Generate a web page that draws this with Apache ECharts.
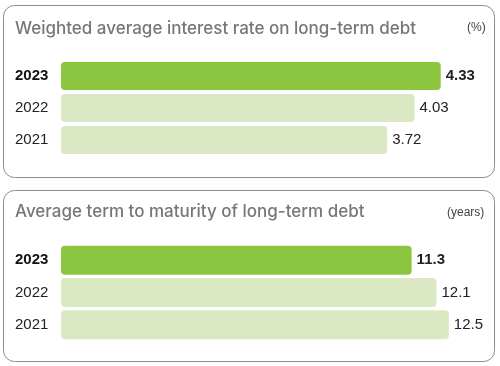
<!DOCTYPE html>
<html><head><meta charset="utf-8">
<script src="https://cdn.jsdelivr.net/npm/echarts@6/dist/echarts.min.js"></script>
<style>html,body{margin:0;padding:0;background:#fff}#c{width:500px;height:366px}</style>
</head><body><div id="c"></div>
<script>
const categories = ['2021', '2022', '2023'];
const rateValues = [3.72, 4.03, 4.33];
const termValues = [12.5, 12.1, 11.3];
const title1 = 'Weighted average interest rate on long-term debt';
const unit1 = '(%)';
const title2 = 'Average term to maturity of long-term debt';
const unit2 = '(years)';

const DARK = '#8cc540', LIGHT = '#dbe8c4';
const FONT = 'Liberation Sans, Arial, sans-serif';
const TFONT = 'Inter, Liberation Sans, sans-serif';

function barData(vals) {
  return vals.map((v, i) => {
    const hl = categories[i] === '2023';
    return {
      value: v,
      itemStyle: { color: hl ? DARK : LIGHT },
      label: { fontWeight: hl ? 'bold' : 'normal' }
    };
  });
}
const catAxis = (gi) => ({
  type: 'category', gridIndex: gi, data: categories,
  axisLine: { show: false }, axisTick: { show: false },
  axisLabel: {
    margin: 46, fontFamily: FONT, fontSize: 15, color: '#222', align: 'left',
    formatter: v => v === '2023' ? '{b|' + v + '}' : v,
    rich: { b: { fontWeight: 'bold', fontSize: 15, fontFamily: FONT, color: '#111' } }
  }
});
const labelCfg = {
  show: true, position: 'right', distance: 5, fontFamily: FONT, fontSize: 15, color: '#222'
};

const chart = echarts.init(document.getElementById('c'), null, { renderer: 'canvas' });
chart.setOption({
  animation: false,
  grid: [
    { left: 61, top: 60, width: 438.5, height: 96 },
    { left: 61, top: 244, width: 434.4, height: 97 }
  ],
  xAxis: [
    { type: 'value', gridIndex: 0, min: 0, max: 5, show: false },
    { type: 'value', gridIndex: 1, min: 0, max: 14, show: false }
  ],
  yAxis: [catAxis(0), catAxis(1)],
  series: [
    { type: 'bar', xAxisIndex: 0, yAxisIndex: 0, barWidth: 28, data: barData(rateValues),
      itemStyle: { borderRadius: 4 }, label: labelCfg },
    { type: 'bar', xAxisIndex: 1, yAxisIndex: 1, barWidth: 29, data: barData(termValues),
      itemStyle: { borderRadius: 4 }, label: labelCfg }
  ],
  graphic: [
    { type: 'rect', shape: { x: 3.5, y: 5.5, width: 491, height: 172, r: 11 },
      style: { fill: 'none', stroke: '#8c8c8c', lineWidth: 1 }, silent: true },
    { type: 'rect', shape: { x: 3.5, y: 190.5, width: 491, height: 171, r: 11 },
      style: { fill: 'none', stroke: '#8c8c8c', lineWidth: 1 }, silent: true },
    { type: 'text', left: 15, top: 20, style: { text: title1, font: '500 17px ' + TFONT, fill: '#777' } },
    { type: 'text', left: 467, top: 22, style: { text: unit1, font: '12px ' + FONT, fill: '#444' } },
    { type: 'text', left: 15, top: 203, style: { text: title2, font: '500 17px ' + TFONT, fill: '#777' } },
    { type: 'text', left: 447, top: 207, style: { text: unit2, font: '12px ' + FONT, fill: '#444' } }
  ]
});
</script></body></html>
